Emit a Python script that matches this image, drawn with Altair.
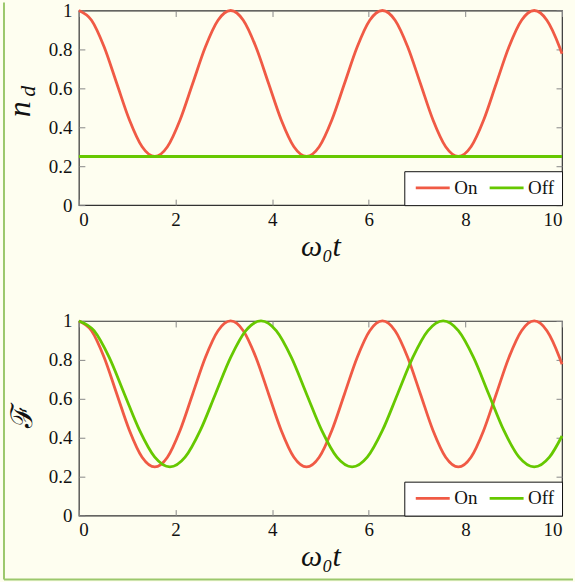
import altair as alt
import pandas as pd

# ---- data ----
x_ticks = [0, 2, 4, 6, 8, 10]
y_ticks = [0, 0.2, 0.4, 0.6, 0.8, 1]

# "On" curve (same in both panels): period ~ pi, between 1 and 0.25
t_on = [0, 0.262, 0.524, 0.785, 1.047, 1.309, 1.571, 1.833, 2.094, 2.356,
        2.618, 2.880, 3.142, 3.403, 3.665, 3.927, 4.189, 4.451, 4.712, 4.974,
        5.236, 5.498, 5.760, 6.021, 6.283, 6.545, 6.807, 7.069, 7.330, 7.592,
        7.854, 8.116, 8.378, 8.639, 8.901, 9.163, 9.425, 9.687, 9.948, 10.0]
v_on = [1, 0.950, 0.8125, 0.625, 0.4375, 0.300, 0.25, 0.300, 0.4375, 0.625,
        0.8125, 0.950, 1, 0.950, 0.8125, 0.625, 0.4375, 0.300, 0.25, 0.300,
        0.4375, 0.625, 0.8125, 0.950, 1, 0.950, 0.8125, 0.625, 0.4375, 0.300,
        0.25, 0.300, 0.4375, 0.625, 0.8125, 0.950, 1, 0.950, 0.8125, 0.778]

# top panel "Off": flat at 0.25
t_flat = [0, 10]
nd_off = [0.25, 0.25]

# bottom panel "Off": period ~ 3.77
t_off = [0, 0.314, 0.628, 0.942, 1.257, 1.571, 1.885, 2.199, 2.513, 2.827,
         3.142, 3.456, 3.770, 4.084, 4.398, 4.712, 5.027, 5.341, 5.655, 5.969,
         6.283, 6.597, 6.912, 7.226, 7.540, 7.854, 8.168, 8.482, 8.796, 9.111,
         9.425, 9.739, 10.0]
f_off = [1, 0.950, 0.8125, 0.625, 0.4375, 0.300, 0.25, 0.300, 0.4375, 0.625,
         0.8125, 0.950, 1, 0.950, 0.8125, 0.625, 0.4375, 0.300, 0.25, 0.300,
         0.4375, 0.625, 0.8125, 0.950, 1, 0.950, 0.8125, 0.625, 0.4375, 0.300,
         0.25, 0.300, 0.409]

series = ["On", "Off"]
colors = ["#f05a45", "#66c800"]

SERIF = "Liberation Serif"
W, H = 484, 195
FRAME = "#9cc86c"
BG = "#fefef0"


def make_df(t1, v1, t2, v2):
    rows = [{"t": a, "v": b, "s": "On"} for a, b in zip(t1, v1)]
    rows += [{"t": a, "v": b, "s": "Off"} for a, b in zip(t2, v2)]
    return pd.DataFrame(rows)


def lines_for(df):
    return alt.Chart(df).mark_line(strokeWidth=2.8, interpolate="monotone").encode(
        x=alt.X("t:Q", scale=alt.Scale(domain=[0, 10], nice=False),
                axis=alt.Axis(values=x_ticks, title="ω₀t", domain=False, ticks=False,
                              grid=True, gridDash=[6, H - 12, 6, 60], gridColor="#888",
                              labelFont=SERIF, labelFontSize=19, labelColor="#111",
                              labelPadding=5, titleFont=SERIF, titleFontStyle="italic",
                              titleFontWeight="normal", titleFontSize=30, titleColor="#111",
                              titlePadding=2)),
        y=alt.Y("v:Q", scale=alt.Scale(domain=[0, 1], nice=False),
                axis=alt.Axis(values=y_ticks, title=None, format="~g", domain=False,
                              ticks=False, grid=True, gridDash=[6, W - 12, 6, 60],
                              gridColor="#888", labelFont=SERIF, labelFontSize=19,
                              labelColor="#111", labelPadding=7)),
        color=alt.Color("s:N", sort=series,
                        scale=alt.Scale(domain=series, range=colors),
                        legend=alt.Legend(title=None, orient="bottom-right", offset=0,
                                          direction="horizontal", fillColor="white",
                                          strokeColor="#111", padding=7,
                                          symbolType="M-1,0H5.8", symbolSize=100,
                                          symbolStrokeWidth=2.8, labelFont=SERIF,
                                          labelFontSize=19, labelColor="#111",
                                          labelOffset=24, columnPadding=5)),
    )


df_top = make_df(t_on, v_on, t_flat, nd_off)
df_bot = make_df(t_on, v_on, t_off, f_off)

one = alt.Data(values=[{}])

# green frame (left and bottom edges of the figure box), drawn with the top panel
frame_left = alt.Chart(one).mark_rule(color=FRAME, strokeWidth=2).encode(
    x=alt.value(-75), y=alt.value(-8), y2=alt.value(570))
frame_bottom = alt.Chart(one).mark_rule(color=FRAME, strokeWidth=2).encode(
    x=alt.value(-75), x2=alt.value(495), y=alt.value(570))

n_txt = alt.Chart(one).mark_text(text="n", font=SERIF, fontStyle="italic", fontSize=32,
                                 angle=270, color="#111").encode(
    x=alt.value(-59), y=alt.value(99))
d_txt = alt.Chart(one).mark_text(text="d", font=SERIF, fontStyle="italic", fontSize=22,
                                 angle=270, color="#111").encode(
    x=alt.value(-51), y=alt.value(81))
top = alt.layer(frame_left, frame_bottom, lines_for(df_top), n_txt, d_txt).properties(
    width=W, height=H)

f_txt = alt.Chart(one).mark_text(text="ℱ", font="DejaVu Serif", fontSize=30,
                                 angle=270, color="#111").encode(
    x=alt.value(-56), y=alt.value(95))
bot = alt.layer(lines_for(df_bot), f_txt).properties(width=W, height=H)

chart = alt.vconcat(top, bot, spacing=116, bounds="flush").resolve_legend(
    color="independent").properties(
    padding={"left": 2, "top": 0, "right": 0, "bottom": 0},
    background=BG,
).configure_view(stroke="#333", strokeWidth=1.2)

chart.save("out.html", embed_options={"renderer": "svg", "actions": False})
